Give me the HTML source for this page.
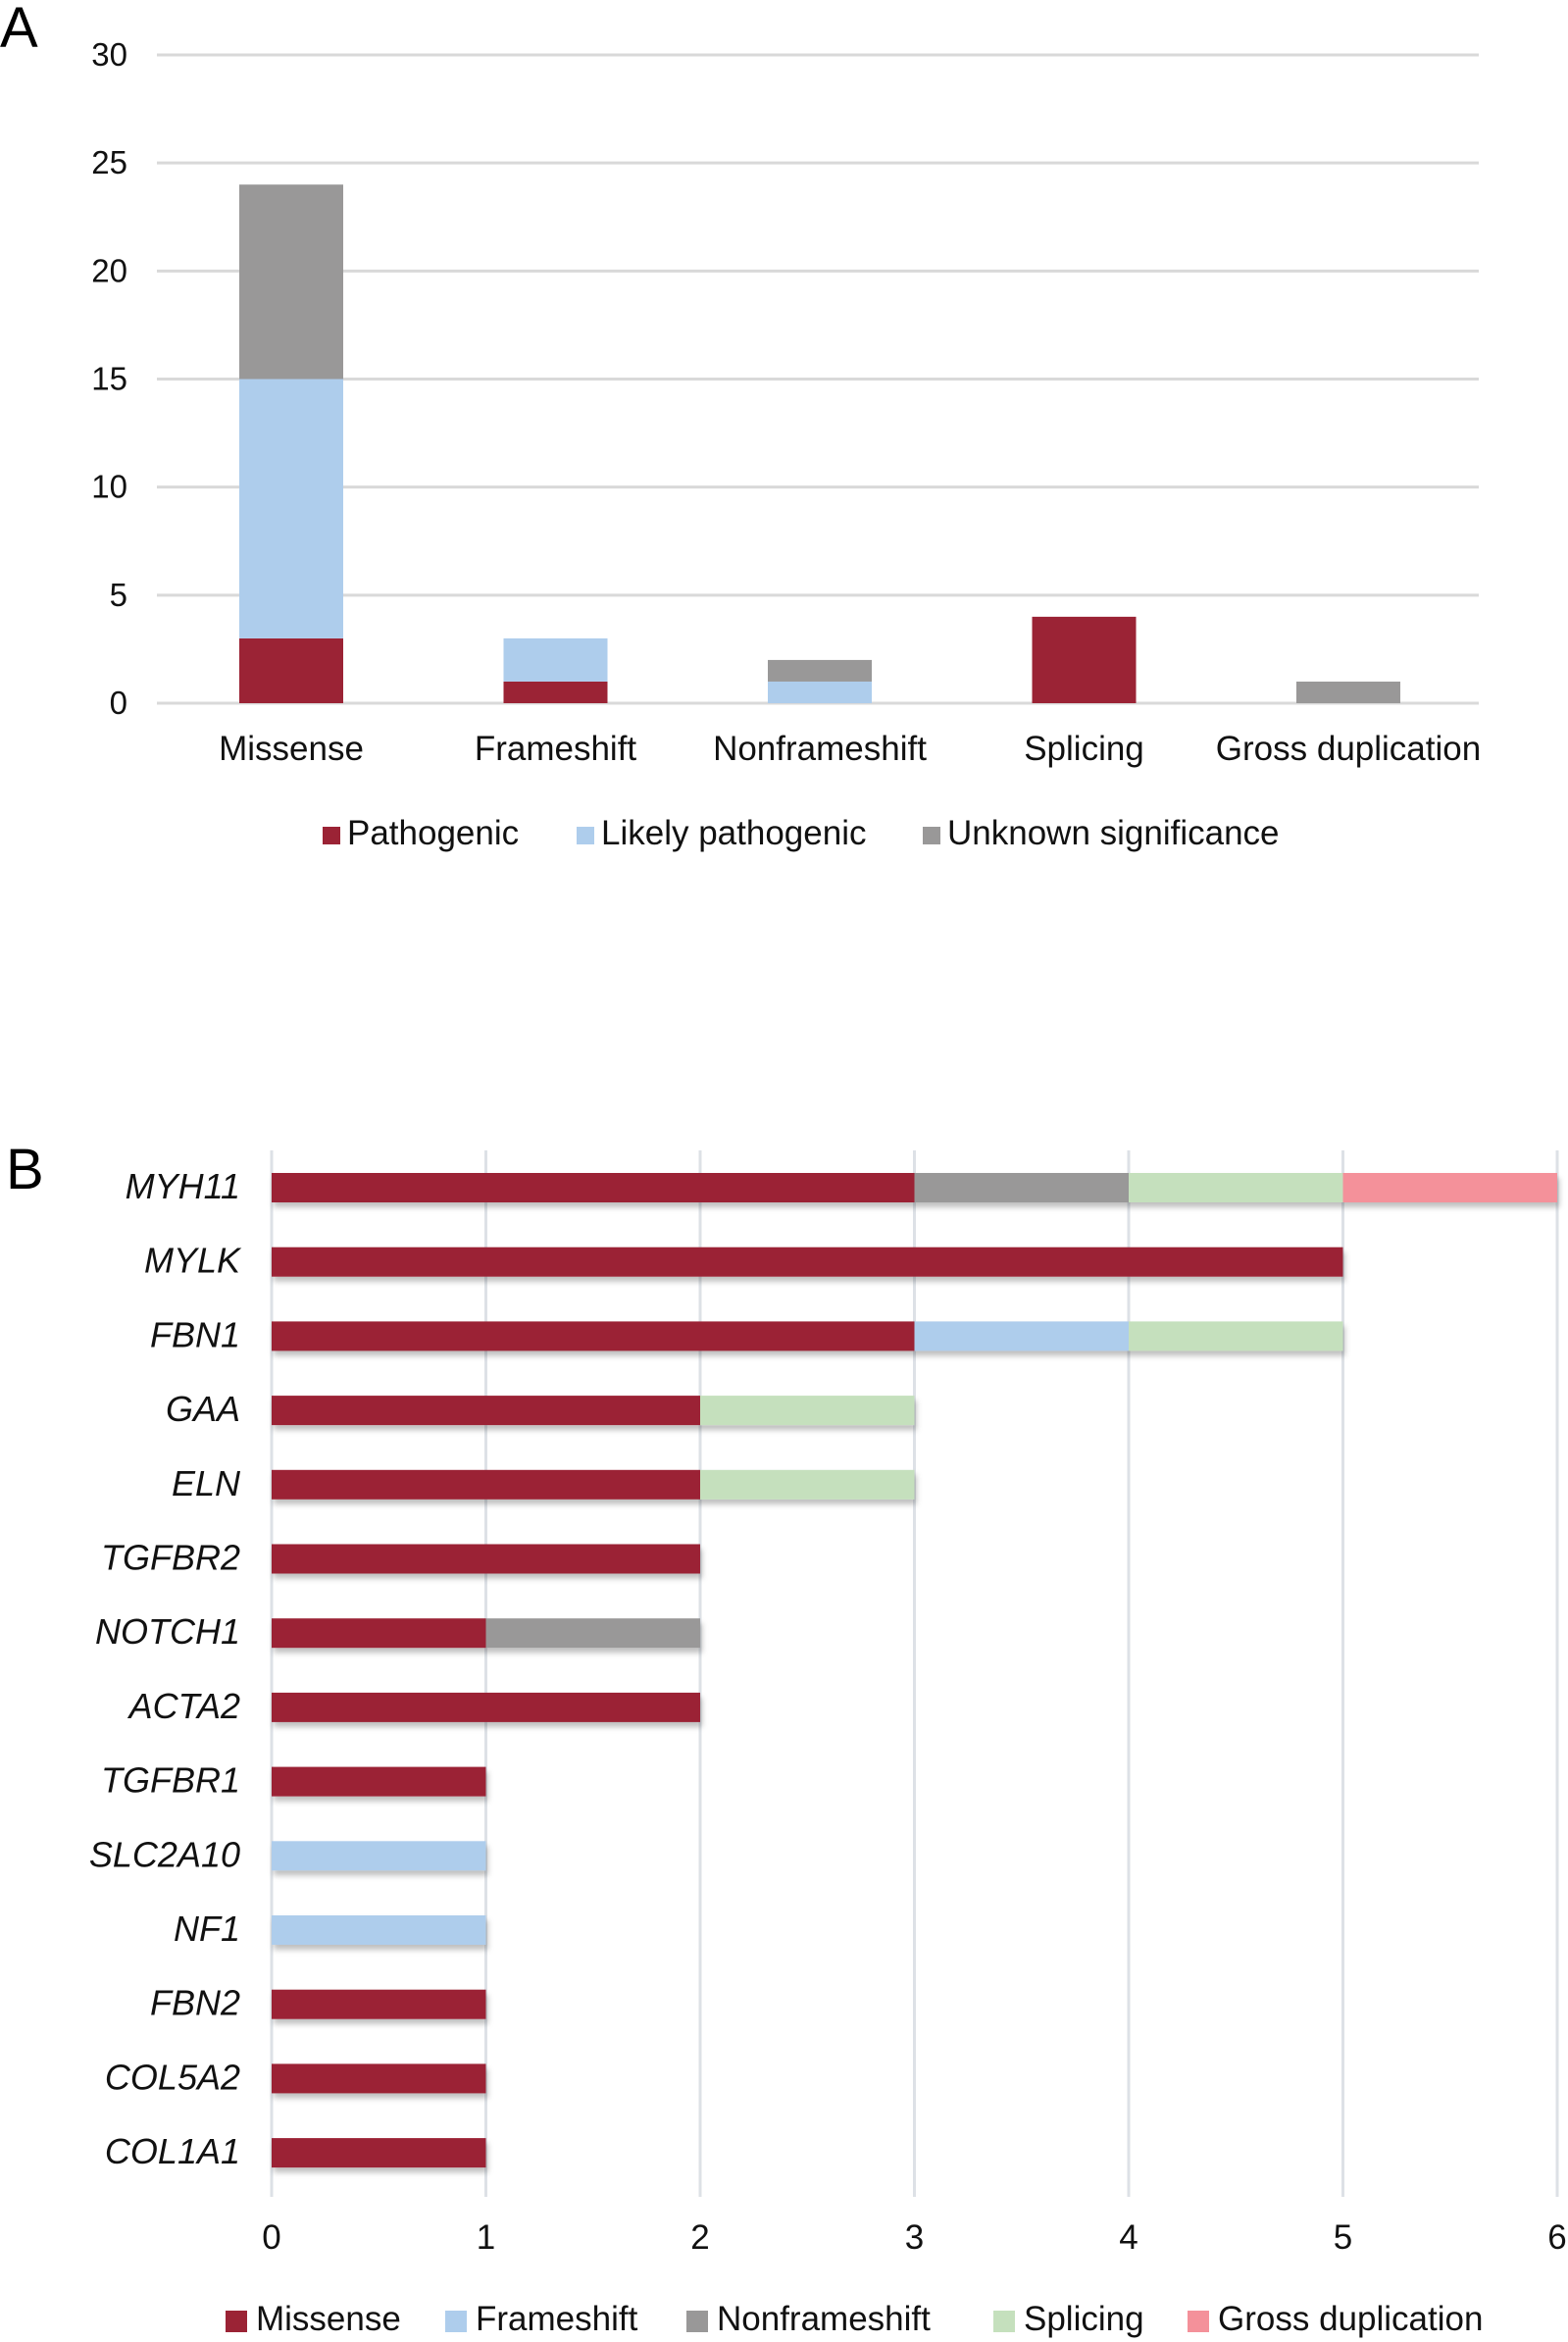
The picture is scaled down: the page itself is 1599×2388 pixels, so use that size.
<!DOCTYPE html>
<html><head><meta charset="utf-8"><style>
html,body{margin:0;padding:0;background:#fff;}
svg{display:block;font-family:"Liberation Sans",Arial,sans-serif;}
</style></head><body>
<svg id="chart" width="1599" height="2388" viewBox="0 0 1599 2388" xmlns="http://www.w3.org/2000/svg">
<defs><filter id="sh" x="-5%" y="-30%" width="110%" height="180%"><feDropShadow dx="2" dy="5" stdDeviation="3" flood-color="#000" flood-opacity="0.25"/></filter></defs>
<g id="A"></g>
<g id="B"></g>
</svg>
<script>
const NS="http://www.w3.org/2000/svg";
// Panel A data
const aCategories=["Missense","Frameshift","Nonframeshift","Splicing","Gross duplication"];
const aPathogenic=[3,1,0,4,0];
const aLikely=[12,2,1,0,0];
const aUnknown=[9,0,1,0,1];
const aTicks=[0,5,10,15,20,25,30];
const aSeriesNames=["Pathogenic","Likely pathogenic","Unknown significance"];
// Panel B data
const bGenes=["MYH11","MYLK","FBN1","GAA","ELN","TGFBR2","NOTCH1","ACTA2","TGFBR1","SLC2A10","NF1","FBN2","COL5A2","COL1A1"];
const bMissense=[3,5,3,2,2,2,1,2,1,0,0,1,1,1];
const bFrameshift=[0,0,1,0,0,0,0,0,0,1,1,0,0,0];
const bNonframeshift=[1,0,0,0,0,0,1,0,0,0,0,0,0,0];
const bSplicing=[1,0,1,1,1,0,0,0,0,0,0,0,0,0];
const bGross=[1,0,0,0,0,0,0,0,0,0,0,0,0,0];
const bTicks=[0,1,2,3,4,5,6];
const bSeriesNames=["Missense","Frameshift","Nonframeshift","Splicing","Gross duplication"];

function mk(tag,attrs,parent,text){const e=document.createElementNS(NS,tag);for(const k in attrs)e.setAttribute(k,attrs[k]);if(text!==undefined)e.textContent=text;parent.appendChild(e);return e;}

// ---- Panel A ----
const A=document.getElementById('A');
const ay=v=>717-(v/30)*661;
const ax=i=>297+i*269.5;
const aColors=["#9b2335","#aecdec","#999898"];
let t=mk('text',{x:0,y:48,'font-size':58},A,"A");

aTicks.forEach(v=>{
  let g=mk('line',{x1:160,x2:1508,y1:ay(v),y2:ay(v),stroke:'#d9d9d9','stroke-width':3},A);
  
  let l=mk('text',{x:130,y:ay(v)+11,'font-size':33,'text-anchor':'end',fill:'#111'},A,String(v));
  
});
const aSeries=[aPathogenic,aLikely,aUnknown];
aCategories.forEach((c,i)=>{
  let base=0;
  aSeries.forEach((s,k)=>{
    if(s[i]>0){
      let r=mk('rect',{x:ax(i)-53,y:ay(base+s[i]),width:106,height:ay(base)-ay(base+s[i]),fill:aColors[k]},A);
      
      
    }
    base+=s[i];
  });
  let l=mk('text',{x:ax(i),y:775,'font-size':35,'text-anchor':'middle',fill:'#111'},A,c);
  
});
const aLegX=[329,588,941];
aSeriesNames.forEach((n,k)=>{
  let g=mk('g',{},A);
  
  mk('rect',{x:aLegX[k],y:843,width:18,height:18,fill:aColors[k]},g);
  mk('text',{x:aLegX[k]+25,y:861,'font-size':35,fill:'#111'},g,n);
});

// ---- Panel B ----
const B=document.getElementById('B');
const bx=v=>277+v*218.5;
const by=i=>1211+i*75.7;
const bColors=["#9b2335","#aecdec","#999898","#c5e0bd","#f4919a"];
t=mk('text',{x:6,y:1212,'font-size':58},B,"B");

bTicks.forEach(v=>{
  let g=mk('line',{x1:bx(v),x2:bx(v),y1:1173,y2:2240,stroke:'#dde1e6','stroke-width':3},B);
  
  let l=mk('text',{x:bx(v),y:2293,'font-size':35,'text-anchor':'middle',fill:'#111'},B,String(v));
  
});
const bSeries=[bMissense,bFrameshift,bNonframeshift,bSplicing,bGross];
bGenes.forEach((g,i)=>{
  let grp=mk('g',{filter:'url(#sh)'},B);
  
  
  let base=0;
  bSeries.forEach((s,k)=>{
    if(s[i]>0){
      let r=mk('rect',{x:bx(base),y:by(i)-15,width:bx(base+s[i])-bx(base),height:30,fill:bColors[k]},grp);
      
      
    }
    base+=s[i];
  });
  let l=mk('text',{x:245,y:by(i)+11,'font-size':36,'font-style':'italic','text-anchor':'end',fill:'#111'},B,g);
  
});
const bLegX=[230,454,700,1013,1211];
bSeriesNames.forEach((n,k)=>{
  let g=mk('g',{},B);
  
  mk('rect',{x:bLegX[k],y:2356,width:22,height:22,fill:bColors[k]},g);
  mk('text',{x:bLegX[k]+31,y:2376,'font-size':35,fill:'#111'},g,n);
});
</script>
</body></html>
